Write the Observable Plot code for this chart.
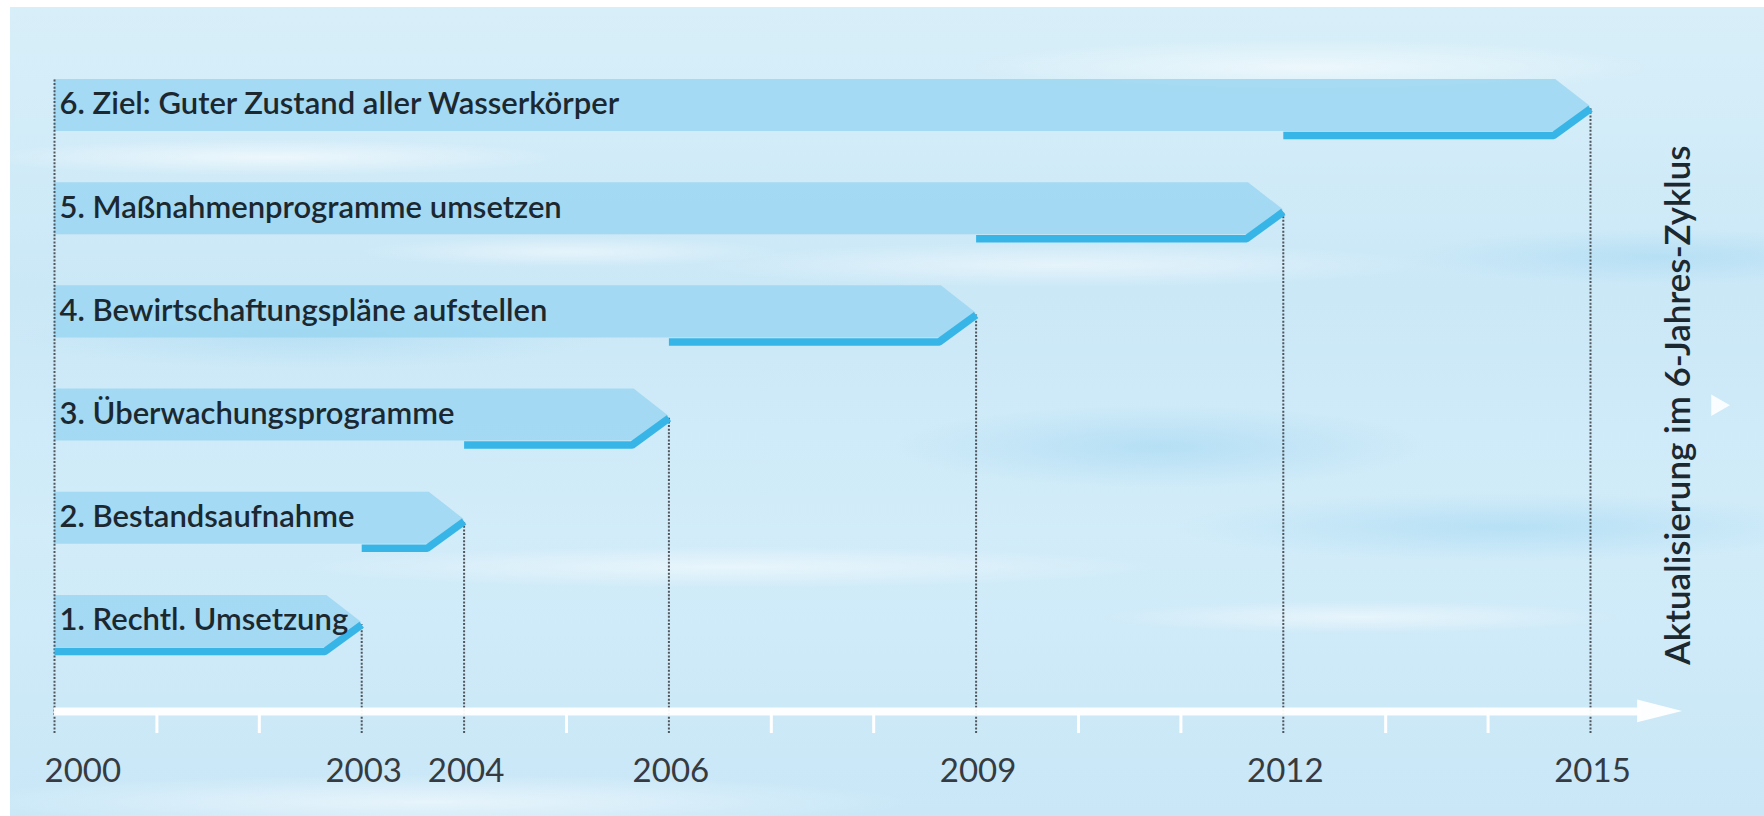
<!DOCTYPE html>
<html>
<head>
<meta charset="utf-8">
<script src="https://cdn.jsdelivr.net/npm/d3@7"></script>
<script src="https://cdn.jsdelivr.net/npm/@observablehq/plot@0.6"></script>
<style>
  html, body { margin: 0; padding: 0; background: #ffffff; }
  #wrap { position: relative; width: 1764px; height: 816px; overflow: hidden; }
  #bg {
    position: absolute; left: 10px; top: 7px; right: 0; bottom: 0;
    background:
      radial-gradient(ellipse 420px 26px at 260px 150px, rgba(255,255,255,0.6), rgba(255,255,255,0) 70%),
      radial-gradient(ellipse 300px 22px at 560px 245px, rgba(255,255,255,0.5), rgba(255,255,255,0) 70%),
      radial-gradient(ellipse 520px 32px at 1050px 258px, rgba(255,255,255,0.5), rgba(255,255,255,0) 70%),
      radial-gradient(ellipse 620px 30px at 720px 560px, rgba(255,255,255,0.5), rgba(255,255,255,0) 70%),
      radial-gradient(ellipse 380px 24px at 1350px 610px, rgba(255,255,255,0.5), rgba(255,255,255,0) 70%),
      radial-gradient(ellipse 380px 60px at 1150px 440px, rgba(150,210,240,0.45), rgba(150,210,240,0) 70%),
      radial-gradient(ellipse 480px 50px at 1500px 520px, rgba(150,210,240,0.45), rgba(150,210,240,0) 70%),
      radial-gradient(ellipse 700px 40px at 420px 795px, rgba(255,255,255,0.55), rgba(255,255,255,0) 70%),
      radial-gradient(ellipse 500px 40px at 1300px 60px, rgba(255,255,255,0.55), rgba(255,255,255,0) 70%),
      radial-gradient(ellipse 420px 45px at 300px 330px, rgba(150,210,240,0.35), rgba(150,210,240,0) 70%),
      radial-gradient(ellipse 360px 40px at 1650px 250px, rgba(150,210,240,0.4), rgba(150,210,240,0) 70%),
      linear-gradient(180deg, #d8eff9 0%, #cbe8f7 35%, #d2ecf9 65%, #c9e7f7 100%);
  }
  #chart { position: absolute; left: 0; top: 0; }
</style>
</head>
<body>
<div id="wrap"><div id="bg"></div><div id="chart"></div></div>
<script>
// ---- data ----
const tasks = [
  "1. Rechtl. Umsetzung",
  "2. Bestandsaufnahme",
  "3. Überwachungsprogramme",
  "4. Bewirtschaftungspläne aufstellen",
  "5. Maßnahmenprogramme umsetzen",
  "6. Ziel: Guter Zustand aller Wasserkörper"
];
const taskStart = [2000, 2003, 2004, 2006, 2009, 2012];
const taskEnd   = [2003, 2004, 2006, 2009, 2012, 2015];
const labeledYears = [2000, 2003, 2004, 2006, 2009, 2012, 2015];
const minorYears = [2001, 2002, 2005, 2007, 2008, 2010, 2011, 2013, 2014];
const cycleLabel = "Aktualisierung im 6-Jahres-Zyklus";

// ---- layout (row units) ----
const BAND_TOP = 0.543, BAND_BOT = 0.039, TIP = 0.28, CHAMFER = 0.34, DIAG = 0.36, RISE = 0.26;
const AXIS_Y = 0.419, TICK_Y = 0.205, YEAR_Y = -0.16;
const FONT = "Lato, 'Open Sans', sans-serif";

const rows = tasks.map((t, k) => ({task: t, row: k + 1, start: taskStart[k], end: taskEnd[k]}));

const bandPts = rows.flatMap(r => [
  {task: r.task, x: 2000, y1: r.row + BAND_TOP, y2: r.row + BAND_BOT},
  {task: r.task, x: r.end - CHAMFER, y1: r.row + BAND_TOP, y2: r.row + BAND_BOT},
  {task: r.task, x: r.end, y1: r.row + TIP, y2: r.row + TIP}
]);
const linePts = rows.flatMap(r => [
  {task: r.task, x: r.start, y: r.row},
  {task: r.task, x: r.end - DIAG, y: r.row},
  {task: r.task, x: r.end, y: r.row + RISE}
]);
const dotted = labeledYears.map(yr => {
  const r = rows.find(d => d.end === yr);
  return {x: yr, y1: TICK_Y, y2: r ? r.row + RISE : rows.length + BAND_TOP};
});
const head = [
  {x: 2015.46, y1: AXIS_Y + 0.11, y2: AXIS_Y - 0.11},
  {x: 2015.9, y1: AXIS_Y, y2: AXIS_Y}
];

const chart = Plot.plot({
  width: 1764,
  height: 816,
  margin: 0,
  x: {domain: [2000, 2015], range: [54, 1590], axis: null},
  y: {domain: [0, 7], range: [754.2, 31.8], axis: null},
  style: {background: "transparent", overflow: "visible"},
  marks: [
    Plot.areaY(bandPts, {x: "x", y1: "y1", y2: "y2", z: "task", fill: "#9ad5f2", fillOpacity: 0.82}),
    Plot.ruleX(dotted, {x: "x", y1: "y1", y2: "y2", stroke: "#50565c", strokeWidth: 2, strokeDasharray: "2,1.6"}),
    Plot.ruleY([AXIS_Y], {x1: 2000, x2: 2015.5, stroke: "#ffffff", strokeWidth: 8, strokeOpacity: 0.95}),
    Plot.areaY(head, {x: "x", y1: "y1", y2: "y2", fill: "#ffffff", fillOpacity: 0.95}),
    Plot.ruleX(minorYears, {x: d => d, y1: AXIS_Y, y2: TICK_Y, stroke: "#ffffff", strokeWidth: 3}),
    Plot.line(linePts, {x: "x", y: "y", z: "task", stroke: "#38b5e7", strokeWidth: 7.5, strokeLinejoin: "miter", strokeLinecap: "butt"}),
    Plot.text(rows, {x: 2000, y: r => r.row + 0.30, text: "task", textAnchor: "start", dx: 5,
      fontSize: 31, fontWeight: 600, fill: "#1c2830", fontFamily: FONT}),
    Plot.text(labeledYears.slice(0, 1), {x: d => d, y: YEAR_Y, text: d => String(d), textAnchor: "start", dx: -10,
      fontSize: 33, fill: "#353b41", fontFamily: FONT}),
    Plot.text(labeledYears.slice(1), {x: d => d, y: YEAR_Y, text: d => String(d), textAnchor: "middle", dx: 2,
      fontSize: 33, fill: "#353b41", fontFamily: FONT}),
    Plot.text([cycleLabel], {x: 2015.86, y: 3.386, text: d => d, rotate: -90, textAnchor: "middle",
      fontSize: 35, fontWeight: 600, fill: "#1c2830", fontFamily: FONT}),
    Plot.dot([cycleLabel], {x: 2016.24, y: 3.386, symbol: "triangle", rotate: 90, r: 8, fill: "#ffffff", fillOpacity: 0.9, stroke: "none"})
  ]
});
document.getElementById("chart").appendChild(chart);
</script>
</body>
</html>
